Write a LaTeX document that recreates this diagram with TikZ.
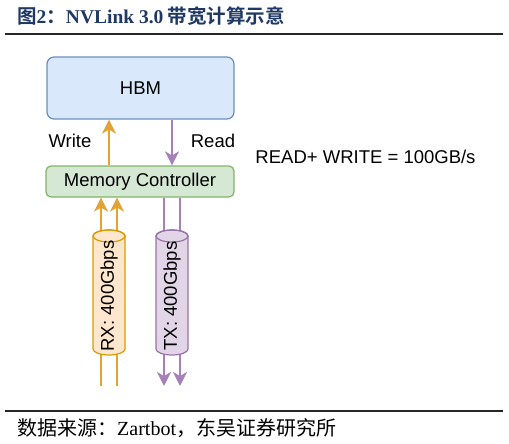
\documentclass[tikz,border=0pt]{standalone}
\usepackage{fontspec}
\setmainfont{Liberation Serif}
\setsansfont{Liberation Sans}
\newfontfamily\cjk{Noto Sans CJK SC}
\newfontfamily\cjkbold{Noto Sans CJK SC Bold}
\usetikzlibrary{arrows.meta}

\definecolor{hbmfill}{HTML}{DAE8FC}
\definecolor{hbmline}{HTML}{6C8EBF}
\definecolor{mcfill}{HTML}{D5E8D4}
\definecolor{mcline}{HTML}{82B366}
\definecolor{rxfill}{HTML}{FFE6CC}
\definecolor{rxline}{HTML}{D79B00}
\definecolor{rxarrow}{HTML}{E3A233}
\definecolor{txfill}{HTML}{E1D5E7}
\definecolor{txline}{HTML}{9673A6}
\definecolor{txarrow}{HTML}{A680B8}
\definecolor{titleblue}{HTML}{1F3864}

\tikzset{
  box/.style={draw,rounded corners=7pt,line width=1.2pt,
    font=\sffamily\fontsize{18.5}{20}\selectfont},
  pipe/.style={line width=1.2pt},
  lbl/.style={font=\sffamily\fontsize{18.5}{20}\selectfont},
  rxline/.style={draw=rxarrow,line width=1.8pt,-{Stealth[length=14pt,width=14pt,inset=4pt]}},
  txline/.style={draw=txarrow,line width=1.8pt,-{Stealth[length=14pt,width=14pt,inset=4pt]}}
}

\begin{document}
\begin{tikzpicture}[x=1pt,y=-1pt]
  \useasboundingbox (0,0) rectangle (509,444);

  \node[anchor=base west,text=titleblue,inner sep=0pt] (title) at (17,24)
    {\fontsize{19.5}{21}\selectfont\cjkbold 图{\rmfamily\bfseries 2}：{\rmfamily\bfseries NVLink 3.0} 带宽计算示意};
  \draw[line width=2pt,black!85] (5,34) -- (503,34);

  \node[box,fill=hbmfill,draw=hbmline,minimum width=187pt,minimum height=62pt]
    (hbm) at (140.5,88) {HBM};
  \node[box,fill=mcfill,draw=mcline,minimum width=188pt,minimum height=31pt,rounded corners=5pt]
    (mc) at (140,181.5) {Memory Controller};

  \node[lbl] (write) at (70,141) {Write};
  \node[lbl] (read) at (213,141) {Read};
  \draw[rxline] ([xshift=-31pt]mc.north) -- ([xshift=-31.5pt]hbm.south);
  \draw[txline] ([xshift=31.5pt]hbm.south) -- ([xshift=32pt]mc.north);

  % links below the controller
  \coordinate (rxa) at (101,386);
  \coordinate (rxb) at (117,386);
  \coordinate (txa) at (164,386);
  \coordinate (txb) at (180,386);
  \draw[rxline] (rxa) -- (rxa |- mc.south);
  \draw[rxline] (rxb) -- (rxb |- mc.south);
  \draw[txline] (txa |- mc.south) -- (txa);
  \draw[txline] (txb |- mc.south) -- (txb);

  % cylinders
  \filldraw[pipe,fill=rxfill,draw=rxline] (93,236) -- (93,349)
    arc[start angle=180,delta angle=-180,x radius=16,y radius=6] -- (125,236)
    arc[start angle=0,delta angle=-180,x radius=16,y radius=6] -- cycle;
  \draw[pipe,draw=rxline] (109,236) ellipse[x radius=16,y radius=6];
  \filldraw[pipe,fill=txfill,draw=txline] (156,236) -- (156,349)
    arc[start angle=180,delta angle=-180,x radius=16,y radius=6] -- (188,236)
    arc[start angle=0,delta angle=-180,x radius=16,y radius=6] -- cycle;
  \draw[pipe,draw=txline] (172,236) ellipse[x radius=16,y radius=6];
  \node[lbl,rotate=90] (rx) at (109,296) {RX: 400Gbps};
  \node[lbl,rotate=90] (tx) at (172,296) {TX: 400Gbps};

  \node[lbl] (total) at (365.5,157) {READ+ WRITE = 100GB/s};

  \draw[line width=1.8pt,black!85] (5,411) -- (503,411);
  \node[anchor=base west,inner sep=0pt] (source) at (17,435)
    {\fontsize{20}{22}\selectfont\cjk 数据来源：{\rmfamily Zartbot}，东吴证券研究所};
\end{tikzpicture}
\end{document}
